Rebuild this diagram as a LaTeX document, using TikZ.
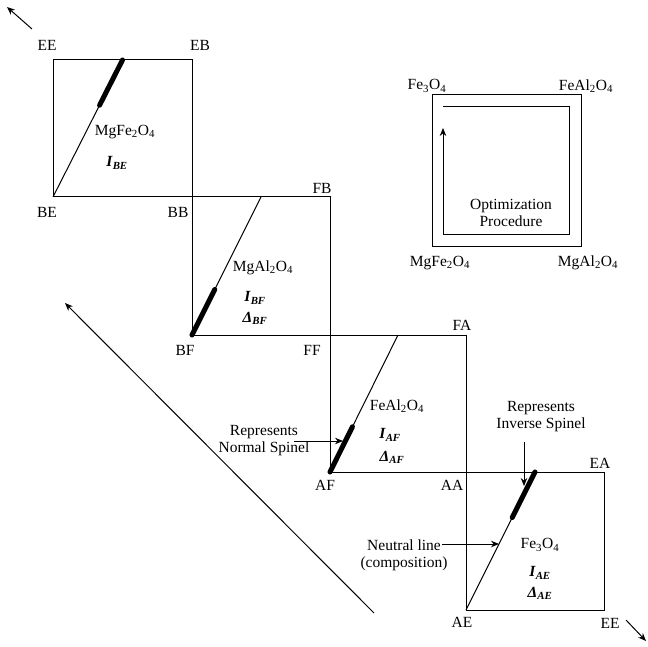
\documentclass[tikz,border=0pt]{standalone}
\usepackage{fontspec}
\setmainfont{Liberation Serif}
\usetikzlibrary{arrows.meta,calc}
\newcommand{\qI}[1]{\textbf{\textit{I}\textsubscript{\textit{#1}}}}
\newcommand{\qD}[1]{\textbf{\textit{Δ}\textsubscript{\textit{#1}}}}
\begin{document}
\begin{tikzpicture}[x=1pt,y=-1pt,
  thin line/.style={line width=1pt},
  thick seg/.style={line width=5pt,line cap=round},
  arr/.style={line width=1pt,-{Stealth[length=8pt,width=6.5pt]}},
  lbl/.style={inner sep=0pt,font=\fontsize{15.5}{17}\selectfont},
  note/.style={inner sep=0pt,align=center,font=\fontsize{15.5}{17}\selectfont}]
\useasboundingbox (0,0) rectangle (648,647);
% corners
\coordinate (cEE) at (53,60);
\coordinate (cEB) at (192,60);
\coordinate (cBE) at (53,197);
\coordinate (cBB) at (192,197);
\coordinate (cFB) at (330,197);
\coordinate (cBF) at (192,335);
\coordinate (cFF) at (330,335);
\coordinate (cFA) at (466,335);
\coordinate (cAF) at (330,472);
\coordinate (cAA) at (466,472);
\coordinate (cEA) at (604,472);
\coordinate (cAE) at (466,610);
\coordinate (cEE2) at (604,610);
% squares
\draw[thin line] (cEE) rectangle (cBB);
\draw[thin line] (cBB) rectangle (cFF);
\draw[thin line] (cFF) rectangle (cAA);
\draw[thin line] (cAA) rectangle (cEE2);
% neutral lines (bottom-left corner to top midpoint)
\coordinate (t1) at (122.5,60);
\coordinate (t2) at (261,197);
\coordinate (t3) at (398,335);
\coordinate (t4) at (535,472);
\draw[thin line] (cBE) -- (t1);
\draw[thin line] (cBF) -- (t2);
\draw[thin line] (cAF) -- (t3);
\draw[thin line] (cAE) -- (t4);
% thick segments
\draw[thick seg] (t1) -- ($(t1)!0.33!(cBE)$);
\draw[thick seg] (cBF) -- ($(cBF)!0.33!(t2)$);
\draw[thick seg] (cAF) -- ($(cAF)!0.33!(t3)$);
\draw[thick seg] (t4) -- ($(t4)!0.33!(cAE)$);
% corner labels
\node[lbl] (lEE) at (47,45) {EE};
\node[lbl] (lEB) at (200,45) {EB};
\node[lbl] (lBE) at (47,212) {BE};
\node[lbl] (lBB) at (178,212) {BB};
\node[lbl] (lFB) at (322,188) {FB};
\node[lbl] (lBF) at (185,350) {BF};
\node[lbl] (lFF) at (312,350) {FF};
\node[lbl] (lFA) at (462,325) {FA};
\node[lbl] (lAF) at (325,485) {AF};
\node[lbl] (lAA) at (452,485) {AA};
\node[lbl] (lEA) at (600,463) {EA};
\node[lbl] (lAE) at (462,622) {AE};
\node[lbl] (lEE2) at (610,623) {EE};
% square contents
\node[lbl] (f1) at (125,132) {MgFe\textsubscript{2}O\textsubscript{4}};
\node[lbl] (i1) at (117,163) {\qI{BE}};
\node[lbl] (f2) at (263,268) {MgAl\textsubscript{2}O\textsubscript{4}};
\node[lbl] (i2) at (255,298) {\qI{BF}};
\node[lbl] (d2) at (255,318) {\qD{BF}};
\node[lbl] (f3) at (397,406) {FeAl\textsubscript{2}O\textsubscript{4}};
\node[lbl] (i3) at (390,435) {\qI{AF}};
\node[lbl] (d3) at (392,457) {\qD{AF}};
\node[lbl] (f4) at (540,545) {Fe\textsubscript{3}O\textsubscript{4}};
\node[lbl] (i4) at (540,573) {\qI{AE}};
\node[lbl] (d4) at (540,593) {\qD{AE}};
% annotations
\node[note] (nNormal) at (264,441) {Represents\\Normal Spinel};
\coordinate (aNormal) at (343,441);
\draw[arr] (294,441) -- (aNormal);
\node[note] (nInverse) at (541,417) {Represents\\Inverse Spinel};
\coordinate (aInverse) at (524,486);
\draw[arr] (524,442) -- (aInverse);
\node[note] (nNeutral) at (404,555) {Neutral line\\(composition)};
\coordinate (aNeutral) at (499,544);
\draw[arr] (442,544) -- (aNeutral);
% direction arrows
\coordinate (dA1) at (32,29);
\coordinate (dA2) at (7,7);
\draw[arr] (dA1) -- (dA2);
\coordinate (dB1) at (626,620);
\coordinate (dB2) at (646,641);
\draw[arr] (dB1) -- (dB2);
\coordinate (dC1) at (374,613);
\coordinate (dC2) at (65,303);
\draw[arr] (dC1) -- (dC2);
% optimization box
\draw[thin line] (432,95) rectangle (581,247);
\draw[arr] (443,107) -- (569,107) -- (569,235) -- (443,235) -- (443,128);
\node[lbl] (o1) at (427,86) {Fe\textsubscript{3}O\textsubscript{4}};
\node[lbl] (o2) at (586,86) {FeAl\textsubscript{2}O\textsubscript{4}};
\node[lbl] (o3) at (440,263) {MgFe\textsubscript{2}O\textsubscript{4}};
\node[lbl] (o4) at (588,263) {MgAl\textsubscript{2}O\textsubscript{4}};
\node[note] (oText) at (511,213) {Optimization\\Procedure};
\end{tikzpicture}
\end{document}
